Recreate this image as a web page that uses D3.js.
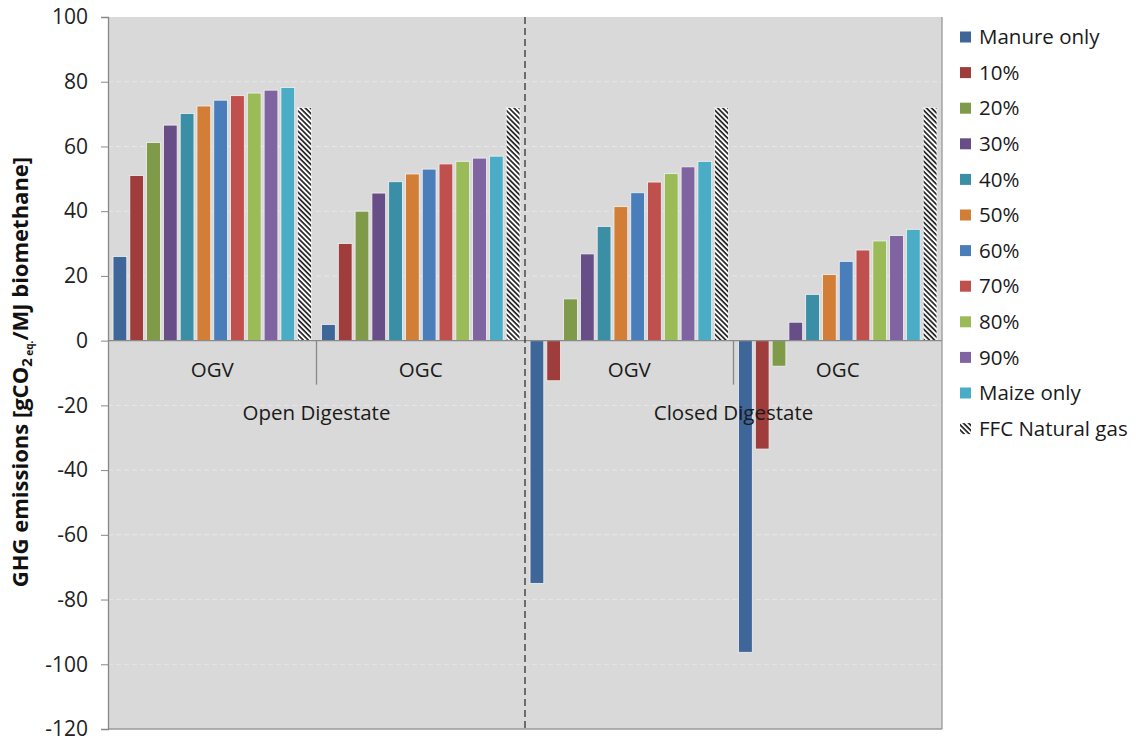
<!DOCTYPE html>
<html><head><meta charset="utf-8">
<script src="https://cdn.jsdelivr.net/npm/d3@7"></script>
<style>body{margin:0;background:#fff}svg{display:block}text{font-family:"Open Sans","DejaVu Sans",sans-serif}</style>
</head><body><svg id="c" width="1144" height="742"></svg>
<script>
const categories = ["OGV","OGC","OGV","OGC"];
const groupLabels = ["Open Digestate","Closed Digestate"];
const seriesNames = ["Manure only","10%","20%","30%","40%","50%","60%","70%","80%","90%","Maize only","FFC Natural gas"];
const manure = [26, 5, -75, -96.3];
const p10 = [51, 30, -12.4, -33.5];
const p20 = [61.2, 40, 12.9, -7.9];
const p30 = [66.6, 45.6, 26.8, 5.7];
const p40 = [70.2, 49.1, 35.3, 14.3];
const p50 = [72.5, 51.5, 41.4, 20.4];
const p60 = [74.3, 53, 45.7, 24.5];
const p70 = [75.7, 54.6, 49, 28];
const p80 = [76.5, 55.4, 51.6, 30.8];
const p90 = [77.4, 56.4, 53.7, 32.5];
const maize = [78.2, 57, 55.4, 34.4];
const ffc = [72, 72, 72, 72];
const yTicks = [-120,-100,-80,-60,-40,-20,0,20,40,60,80,100];
const colors = ["#3E6698","#9E3D3B","#7F9A48","#684E87","#3A8EA5","#D27E37","#4A7EBB","#C0504D","#9BBB59","#8064A2","#4BACC6","url(#hatch)"];
const seriesValues = [manure,p10,p20,p30,p40,p50,p60,p70,p80,p90,maize,ffc];

const svg = d3.select("#c");
const L=108, R=942, T=17, B=729;
const defs = svg.append("defs");
const pat = defs.append("pattern").attr("id","hatch").attr("patternUnits","userSpaceOnUse")
  .attr("width",3.6).attr("height",3.6).attr("patternTransform","rotate(45)");
pat.append("rect").attr("width",3.6).attr("height",3.6).attr("fill","#fff");
pat.append("rect").attr("width",3.6).attr("height",1.7).attr("fill","#222");

const y = d3.scaleLinear().domain([-120,100]).range([B,T]);
const xg = d3.scaleBand().domain(d3.range(categories.length)).range([L,R]).padding(0);
const xs = d3.scaleBand().domain(d3.range(seriesNames.length)).range([0,xg.bandwidth()]).paddingInner(0.18).paddingOuter(0.3);

svg.append("rect").attr("x",L).attr("y",T).attr("width",R-L).attr("height",B-T).attr("fill","#D9D9D9");
// grid
svg.append("g").selectAll("line").data(yTicks.filter(t=>t!==0&&t!==-120&&t!==100)).join("line")
  .attr("x1",L).attr("x2",R).attr("y1",d=>y(d)).attr("y2",d=>y(d))
  .attr("stroke","#E6E6E6").attr("stroke-width",1).attr("stroke-dasharray","5,3");

// bars
const bars = svg.append("g");
seriesValues.forEach((vals,si)=>{
  bars.selectAll(null).data(vals).join("rect")
    .attr("x",(d,gi)=>xg(gi)+xs(si))
    .attr("width",xs.bandwidth())
    .attr("y",d=>y(Math.max(0,d)))
    .attr("height",d=>Math.abs(y(d)-y(0)))
    .attr("fill",colors[si]).attr("stroke","#f2f2f2").attr("stroke-width",0.8);
});

// zero line
svg.append("line").attr("x1",L).attr("x2",R).attr("y1",y(0)).attr("y2",y(0)).attr("stroke","#8a8a8a").attr("stroke-width",1.3);
// frame
svg.append("line").attr("x1",R).attr("x2",R).attr("y1",T).attr("y2",B).attr("stroke","#999").attr("stroke-width",1.3);
svg.append("line").attr("x1",L).attr("x2",R).attr("y1",B).attr("y2",B).attr("stroke","#999").attr("stroke-width",1.3);

// y axis
const ya = svg.append("g").attr("transform",`translate(${L},0)`)
  .call(d3.axisLeft(y).tickValues(yTicks).tickFormat(d=>String(d)).tickSize(7).tickPadding(13));
ya.select(".domain").attr("stroke","#888").attr("stroke-width",1.3);
ya.selectAll(".tick line").attr("stroke","#888");
ya.selectAll("text").attr("font-size",21).attr("fill","#222").attr("font-family","'Open Sans',sans-serif");

// category separators
[1,3].forEach(i=>{
  svg.append("line").attr("x1",xg(i)).attr("x2",xg(i)).attr("y1",y(0)).attr("y2",y(0)+44).attr("stroke","#888").attr("stroke-width",1.3);
});
// category labels
svg.append("g").selectAll("text").data(categories).join("text")
  .attr("x",(d,i)=>xg(i)+xg.bandwidth()/2).attr("y",y(0)+36).attr("text-anchor","middle")
  .attr("font-size",20.5).attr("fill","#1a1a1a").text(d=>d);
svg.append("g").selectAll("text").data(groupLabels).join("text")
  .attr("x",(d,i)=>xg(i*2+1)).attr("y",y(0)+79).attr("text-anchor","middle")
  .attr("font-size",20.5).attr("fill","#1a1a1a").text(d=>d);

// dashed divider
svg.append("line").attr("x1",xg(2)).attr("x2",xg(2)).attr("y1",T).attr("y2",B).attr("stroke","#333").attr("stroke-width",1.3).attr("stroke-dasharray","7,4");

// y title
const yt = svg.append("text").attr("transform","translate(28,372) rotate(-90)").attr("text-anchor","middle")
  .attr("font-size",22).attr("font-weight","bold").attr("fill","#111");
yt.append("tspan").text("GHG emissions [gCO");
yt.append("tspan").attr("font-size",15).attr("dy",4).text("2");
yt.append("tspan").attr("font-size",10).attr("dy",1).text(" eq.");
yt.append("tspan").attr("dy",-5).text("/MJ biomethane]");

// legend
const lg = svg.append("g").attr("transform","translate(960,37)");
const it = lg.selectAll("g").data(seriesNames).join("g").attr("transform",(d,i)=>`translate(0,${i*35.6})`);
it.append("rect").attr("x",0).attr("y",-5.5).attr("width",11).attr("height",11).attr("fill",(d,i)=>colors[i]);
it.append("text").attr("x",19).attr("y",0).attr("dy","0.35em").attr("font-size",20.5).attr("fill","#1a1a1a").text(d=>d);
</script></body></html>
